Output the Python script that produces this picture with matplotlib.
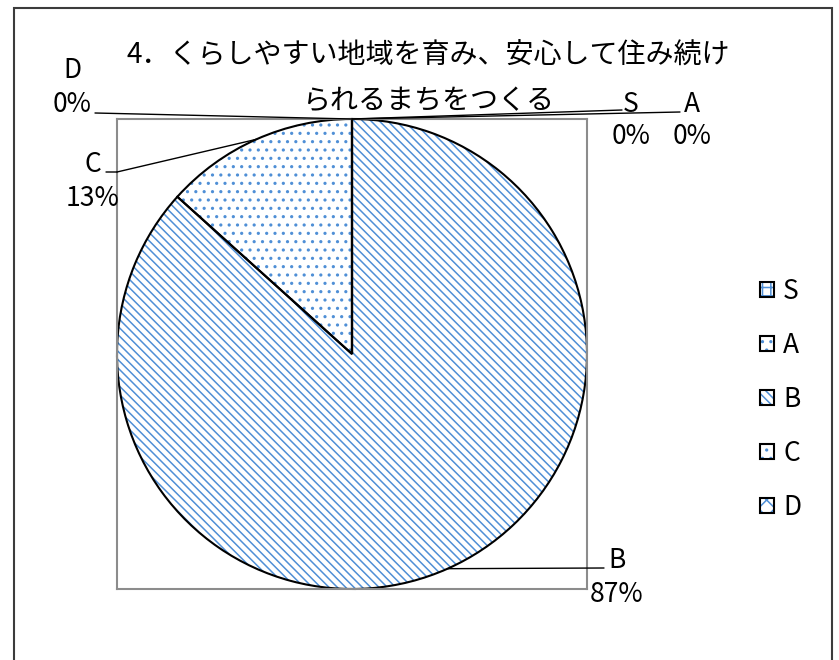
import numpy as np
import matplotlib.pyplot as plt
from matplotlib.patches import Rectangle
from matplotlib.legend_handler import HandlerTuple

#Grades and number of answers for each grade
grades = ["S", "A", "B", "C", "D"]
counts = [0, 0, 13, 2, 0]
hatches = ["++", "..", "\\\\\\\\", "..", "xx"]

title_line1 = "4．くらしやすい地域を育み、安心して住み続け"
title_line2 = "られるまちをつくる"

plt.rcParams['font.family'] = ['Noto Sans CJK JP', 'DejaVu Sans']
plt.rcParams['hatch.color'] = '#4f8fd6'
plt.rcParams['hatch.linewidth'] = 1.1

W, H = 839, 660
fig = plt.figure(figsize=(W / 100, H / 100), dpi=100)


#pixel position measured from the top left corner -> figure fraction
def fpos(x, y):
    return x / W, 1 - y / H


ax = fig.add_axes([117 / W, 1 - 589 / H, 470 / W, 470 / H])

#hatched wedges first, then the black outlines on top of them
fill_wedges, _ = ax.pie(counts, startangle=90, counterclock=False,
                        colors=["white"] * len(counts), hatch=hatches,
                        wedgeprops=dict(linewidth=0))
line_wedges, _ = ax.pie(counts, startangle=90, counterclock=False,
                        wedgeprops=dict(fill=False, edgecolor="black",
                                        linewidth=1.5))
ax.set_xlim(-1, 1)
ax.set_ylim(-1, 1)
ax.set_frame_on(True)
for sp in ax.spines.values():
    sp.set_color("#8c8c8c")
    sp.set_linewidth(1.5)

#percent labels from the counts
total = sum(counts)
pct = [f"{c / total * 100:.0f}%" for c in counts]

#where each label goes: name centre, percent centre, end of leader line
label_name = [(631, 105), (692, 105), (617, 561), (93, 164), (72, 71)]
label_pct = [(631, 137), (692, 137), (617, 594), (93, 199), (72, 105)]
line_end = [(622, 110), (680, 112), (604, 568), (117, 172), (95, 113)]

for i, w in enumerate(line_wedges):
    mid = np.deg2rad((w.theta1 + w.theta2) / 2) if counts[i] else np.deg2rad(90)
    xy = (np.cos(mid), np.sin(mid))
    ax.annotate("", xy=xy, xycoords="data",
                xytext=(line_end[i][0], H - line_end[i][1]),
                textcoords="figure pixels",
                arrowprops=dict(arrowstyle="-", color="black", lw=1,
                                shrinkA=0, shrinkB=0))
    fig.text(*fpos(*label_name[i]), grades[i], fontsize=19,
             ha="center", va="center")
    fig.text(*fpos(*label_pct[i]), pct[i], fontsize=19,
             ha="center", va="center")

#short flat piece on the C leader line
ax.annotate("", xy=(117, H - 172), xycoords="figure pixels",
            xytext=(106, H - 172), textcoords="figure pixels",
            arrowprops=dict(arrowstyle="-", color="black", lw=1,
                            shrinkA=0, shrinkB=0))

#title on two lines
fig.text(*fpos(428, 56), title_line1, fontsize=20.2, ha="center", va="center")
fig.text(*fpos(428, 101), title_line2, fontsize=20.2, ha="center", va="center")

#legend: hatched box with black outline on top
handles = [(f, l) for f, l in zip(fill_wedges, line_wedges)]
fig.legend(handles, grades, handler_map={tuple: HandlerTuple(ndivide=1)},
           loc="upper left", bbox_to_anchor=fpos(760, 278), frameon=False,
           fontsize=19, handlelength=0.53, handleheight=0.53,
           handletextpad=0.35, labelspacing=1.02, borderpad=0,
           borderaxespad=0)

#chart area border
fig.add_artist(Rectangle((14 / W, -0.1), 818 / W, 1.1 - 8 / H,
                         transform=fig.transFigure, fill=False,
                         edgecolor="#3c3c3c", linewidth=1.5))

fig.savefig("out.png", dpi=100)
